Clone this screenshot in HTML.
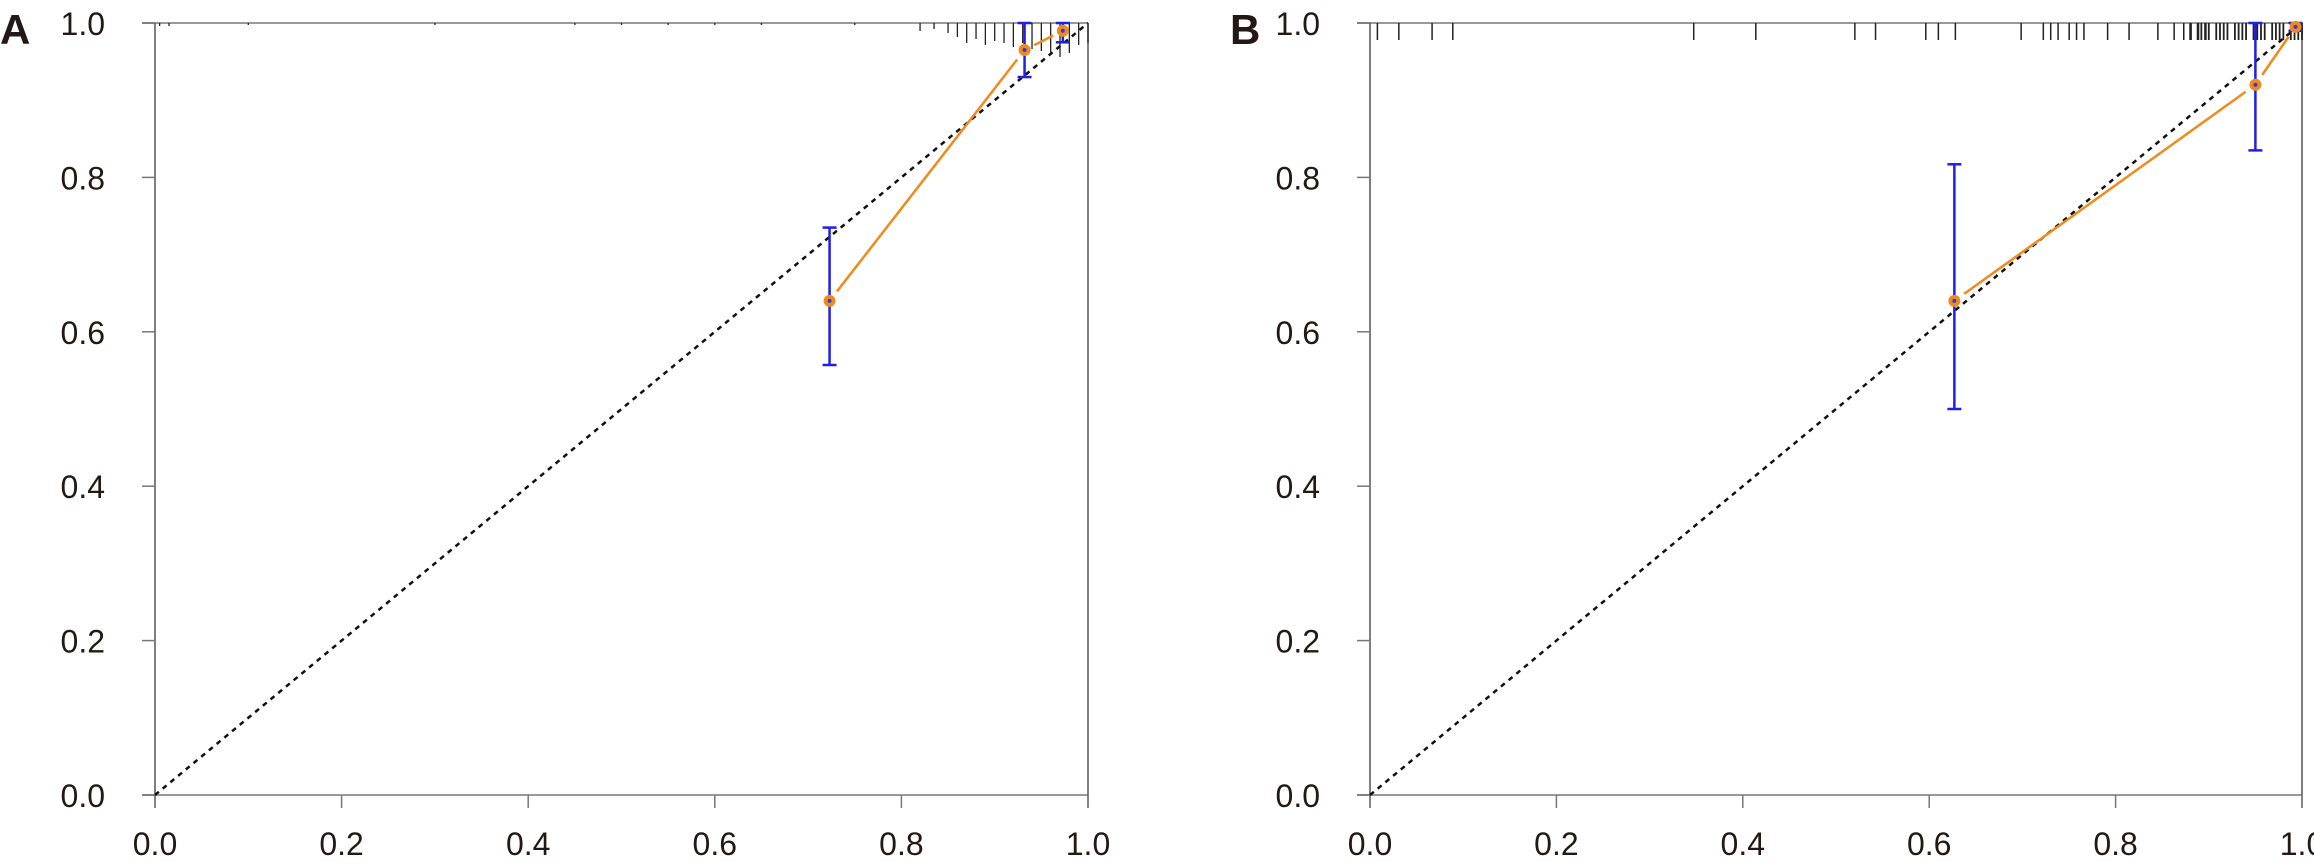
<!DOCTYPE html>
<html><head><meta charset="utf-8"><style>
html,body{margin:0;padding:0;background:#fff;}
svg{display:block;}
text{font-family:"Liberation Sans",sans-serif;fill:#231815;}
</style></head><body>
<svg id="s" width="2314" height="865" xmlns="http://www.w3.org/2000/svg"></svg>
<script>
const s=document.getElementById('s');let h='';
function panel(L,R,lab,labx,pts,bars,rug){
 const T=23,B=795;
 const X=v=>L+v*(R-L),Y=v=>B-v*(B-T);
 h+=`<text x="${labx}" y="44" font-size="42" font-weight="bold">${lab}</text>`;
 h+=`<line x1="${L-13}" y1="${B}" x2="${R}" y2="${B}" stroke="#999" stroke-width="2"/>`;
 h+=`<line x1="${L-13}" y1="${T}" x2="${R}" y2="${T}" stroke="#999" stroke-width="2"/>`;
 h+=`<line x1="${L}" y1="${T}" x2="${L}" y2="${B+13}" stroke="#555" stroke-width="1.5"/>`;
 h+=`<line x1="${R}" y1="${T}" x2="${R}" y2="${B+13}" stroke="#555" stroke-width="1.5"/>`;
 for(let i=0;i<=5;i++){const v=i/5,t=v.toFixed(1);
  h+=`<line x1="${X(v)}" y1="${B}" x2="${X(v)}" y2="${B+13}" stroke="#777" stroke-width="1.5"/>`;
  h+=`<line x1="${L-13}" y1="${Y(v)}" x2="${L}" y2="${Y(v)}" stroke="#777" stroke-width="1.5"/>`;
  h+=`<text x="${X(v)}" y="855" font-size="32" text-anchor="middle">${t}</text>`;
  h+=`<text x="${L-50}" y="${Y(v)+12}" font-size="32" text-anchor="end">${t}</text>`;}
 rug.forEach(([v,l,w])=>{h+=`<line x1="${X(v)}" y1="${T}" x2="${X(v)}" y2="${T+l}" stroke="#222" stroke-width="${w||1.3}"/>`;});
 h+=`<line x1="${X(0)}" y1="${Y(0)}" x2="${X(1)}" y2="${Y(1)}" stroke="#111" stroke-width="2.5" stroke-dasharray="5,5"/>`;
 for(let i=0;i<pts.length-1;i++){const [a,b]=pts[i],[c,d]=pts[i+1];
  const x1=X(a),y1=Y(b),x2=X(c),y2=Y(d),dx=x2-x1,dy=y2-y1,len=Math.hypot(dx,dy),g=Math.min(12,len/4);
  h+=`<line x1="${x1+dx/len*g}" y1="${y1+dy/len*g}" x2="${x2-dx/len*g}" y2="${y2-dy/len*g}" stroke="#f08a1c" stroke-width="2.5"/>`;}
 bars.forEach(([x,lo,hi])=>{const xx=X(x);
  h+=`<line x1="${xx}" y1="${Y(lo)}" x2="${xx}" y2="${Y(hi)}" stroke="#1f1fe6" stroke-width="2.5"/>`;
  h+=`<line x1="${xx-7}" y1="${Y(lo)}" x2="${xx+7}" y2="${Y(lo)}" stroke="#1f1fe6" stroke-width="2.5"/>`;
  h+=`<line x1="${xx-7}" y1="${Y(hi)}" x2="${xx+7}" y2="${Y(hi)}" stroke="#1f1fe6" stroke-width="2.5"/>`;});
 pts.forEach(([a,b])=>{h+=`<circle cx="${X(a)}" cy="${Y(b)}" r="6" fill="#f08a1c"/><circle cx="${X(a)}" cy="${Y(b)}" r="2" fill="#3a3ad0"/>`;});
}
const rugA=[[0.005,3],[0.015,3],[0.1,2],[0.3,2],[0.45,2],[0.5,2],[0.55,2],[0.6,2],[0.65,2],[0.75,2],[0.82,8],[0.835,6],[0.85,10],[0.86,14],[0.87,20],[0.88,16],[0.89,22],[0.9,18],[0.91,20],[0.92,24],[0.93,20],[0.94,26],[0.95,28],[0.96,30],[0.97,34],[0.98,30],[0.99,22],[1.0,20]];
panel(155,1088,'A',0,[[0.723,0.64],[0.932,0.965],[0.973,0.99]],[[0.723,0.557,0.735],[0.932,0.93,1.0],[0.973,0.975,1.0]],rugA);
const rb=[299,328,373,401,727,811,945,973,1041,1058,1081,1170,1200,1210,1220,1235,1245,1255,1287,1316,1355,1377,1390,1400,1410,1420];
const rugB=rb.map(p=>[(p-289)/1261,17,1.5]);
let k=0;for(let v=0.88;v<=1.0;v+=0.004){k++;if(k%5==2)continue;rugB.push([v,17,1.8]);}
panel(1370,2302,'B',1230,[[0.627,0.64],[0.95,0.92],[0.993,0.995]],[[0.627,0.50,0.817],[0.95,0.835,1.0],[0.993,0.99,1.0]],rugB);
s.innerHTML=h;
</script>
</body></html>
